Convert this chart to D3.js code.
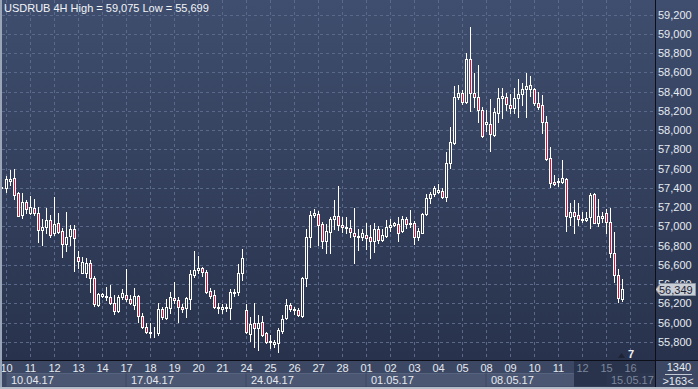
<!DOCTYPE html>
<html><head><meta charset="utf-8">
<script src="https://cdn.jsdelivr.net/npm/d3@7"></script>
<style>
html,body{margin:0;padding:0;background:#3b4763;overflow:hidden;}
svg{display:block;}
text{font-family:"Liberation Sans Narrow","Arial Narrow","Liberation Sans",Arial,sans-serif;font-size:11px;}
</style></head><body><svg id="c" width="698" height="389"></svg>
<script>
const titleText = "USDRUB 4H High = 59,075 Low = 55,699";
const dayLabels = ["10","11","12","13","14","17","18","19","20","21","24","25","26","27","28","01","02","03","04","05","08","09","10","11","12","15","16"];
const weekLabels = ["10.04.17","17.04.17","24.04.17","01.05.17","08.05.17","15.05.17"];
const priceTicks = [55800,56000,56200,56400,56600,56800,57000,57200,57400,57600,57800,58000,58200,58400,58600,58800,59000,59200];
const lastPrice = 56349;
const barsInfo = "1340";
const barsShown = ">163<";
const markerCount = "7";

const openP = [57400,57396,57475,57500,57344,57119,57251,57143,57189,57137,
56963,56997,57067,56929,57033,56953,56814,56901,56970,56680,
56519,56519,56617,56461,56184,56277,56270,56264,56208,56125,
56264,56288,56243,56184,56277,56070,55952,55902,55890,55890,
56139,56046,56156,56253,56236,56166,56150,56249,56496,56547,
56565,56530,56332,56288,56162,56145,56153,56150,56312,56316,
56519,56132,55883,56000,55942,56004,55896,55810,55779,55792,
55917,56046,56184,56139,56132,56070,56461,56887,57119,57126,
57022,56852,56945,57074,57108,57015,56991,56981,56935,56901,
56887,56911,56887,56849,56970,56859,56901,56991,57015,57025,
56956,57074,57022,57033,56893,56935,57126,57292,57337,57361,
57368,57303,57662,57870,58348,58390,58296,58737,58383,58342,
58210,58064,58061,57950,58182,58331,58342,58262,58228,58331,
58376,58425,58425,58425,58280,58262,58088,57708,57459,57465,
57465,57490,57101,57153,57119,57077,57067,57095,57334,57039,
57085,57143,57049,56721,56496,56243];
const highP = [57415,57524,57586,57594,57361,57351,57275,57316,57282,57205,
57074,57189,57119,57303,57137,56981,57147,57015,57015,56748,
56686,56669,56651,56485,56312,56306,56374,56392,56288,56288,
56350,56558,56288,56364,56288,56098,55994,55994,55952,56202,
56166,56243,56322,56426,56270,56194,56270,56547,56748,56693,
56582,56547,56357,56340,56208,56194,56194,56347,56347,56610,
56763,56194,56062,56202,56080,56070,55906,55872,55820,55942,
56080,56246,56202,56160,56150,56472,56974,57157,57181,57164,
57049,57022,57101,57275,57423,57101,57095,57067,57195,56970,
56970,57033,57015,57033,57005,56970,57067,57074,57049,57101,
57108,57101,57171,57060,56981,57137,57334,57361,57420,57441,
57396,57777,58030,58459,58470,58418,58805,59075,58591,58677,
58238,58210,58324,58231,58435,58435,58390,58376,58435,58529,
58487,58591,58563,58435,58400,58366,58148,57822,57535,57503,
57690,57500,57247,57275,57240,57153,57153,57351,57351,57282,
57153,57178,57189,56945,56555,56451];
const lowP = [57395,57361,57431,57282,57108,57085,57137,57129,57119,56842,
56807,56929,56893,56911,56935,56686,56748,56807,56540,56565,
56513,56478,56322,56174,56174,56264,56236,56194,56090,56116,
56243,56229,56194,56139,56010,55942,55890,55848,55855,55872,
56035,56035,56104,56202,56010,56114,56062,56139,56478,56513,
56485,56312,56253,56150,56098,56098,56125,56035,56277,56288,
56444,55896,55813,55751,55716,55862,55792,55734,55751,55699,
55896,56035,56125,56090,56070,56062,56381,56790,57101,56807,
56779,56721,56721,56970,56963,56945,56929,56893,56623,56755,
56859,56763,56669,56738,56831,56849,56893,56956,57005,56852,
56945,56981,56997,56818,56859,56929,57119,57247,57316,57348,
57292,57268,57604,57857,58321,58272,58280,58203,58238,58088,
57926,57995,57787,57940,58088,58124,58210,58176,58176,58140,
58262,58140,58355,58262,58217,57968,57690,57413,57431,57420,
57454,56956,57015,56929,57015,57049,57060,56981,57033,57005,
57049,56935,56680,56426,56218,56229];
const closeP = [57410,57490,57493,57327,57114,57251,57178,57199,57137,56963,
56991,57067,56911,57025,56945,56814,56893,56970,56877,56644,
56634,56617,56461,56191,56295,56295,56277,56208,56125,56264,
56312,56243,56202,56277,56070,55952,55900,55896,55898,56139,
56056,56166,56264,56236,56166,56145,56253,56506,56547,56565,
56524,56322,56281,56160,56158,56166,56160,56316,56322,56513,
56669,55906,55986,55942,56000,55872,55803,55803,55803,55924,
56038,56184,56139,56132,56080,56461,56887,57119,57137,57015,
56852,56953,57074,57108,57015,56991,56987,56939,56901,56887,
56929,56877,56849,56970,56859,56911,56991,57015,57033,56935,
57074,57022,57033,56893,56953,57126,57292,57337,57396,57379,
57303,57656,57880,58348,58390,58296,58737,58383,58342,58210,
57940,58088,57961,58192,58331,58355,58272,58228,58331,58376,
58425,58459,58470,58280,58244,58088,57698,57448,57441,57475,
57500,57108,57153,57108,57074,57067,57085,57327,57039,57108,
57108,57049,56721,56496,56253,56349];

const W = 698, H = 389;
const plotL = 2, plotR = 655, plotB = 360;
const svg = d3.select("#c");
const defs = svg.append("defs");
const grad = defs.append("linearGradient").attr("id","bg").attr("gradientUnits","userSpaceOnUse")
  .attr("x1",0).attr("y1",0).attr("x2",0).attr("y2",plotB);
grad.append("stop").attr("offset",0).attr("stop-color","#3f4e6e");
grad.append("stop").attr("offset",1).attr("stop-color","#28324c");
defs.append("clipPath").attr("id","clip").append("rect").attr("x",plotL).attr("y",0).attr("width",plotR-plotL).attr("height",plotB);

// scales
const xs = d3.scaleLinear().domain([1,151]).range([6,606.75]);
const ys = d3.scaleLinear().domain([55800,59200]).range([342,14.7]);
const px = i => Math.floor(xs(i));
const py = v => Math.round(ys(v));

// backgrounds
svg.append("rect").attr("x",0).attr("y",0).attr("width",W).attr("height",plotB).attr("fill","url(#bg)");
svg.append("rect").attr("x",0).attr("y",plotB).attr("width",W).attr("height",H-plotB).attr("fill","#3b4763");

// grid
const grid = svg.append("g").attr("shape-rendering","crispEdges").attr("stroke","#5a6989").attr("stroke-dasharray","3,3").attr("clip-path","url(#clip)");
grid.selectAll("line.h").data(priceTicks).join("line").attr("class","h")
  .attr("x1",plotL).attr("x2",plotR).attr("y1",d=>py(d)+0.5).attr("y2",d=>py(d)+0.5);
grid.selectAll("line.v").data(dayLabels).join("line").attr("class","v")
  .attr("x1",(d,i)=>px(1+6*i)+0.5).attr("x2",(d,i)=>px(1+6*i)+0.5).attr("y1",0).attr("y2",plotB);

// candles
const idx = d3.range(openP.length);
const cg = svg.append("g").attr("clip-path","url(#clip)").attr("shape-rendering","crispEdges");
cg.selectAll("line.w").data(idx).join("line").attr("class","w")
  .attr("x1",i=>px(i)+0.5).attr("x2",i=>px(i)+0.5)
  .attr("y1",i=>py(Math.max(highP[i],openP[i],closeP[i])))
  .attr("y2",i=>py(Math.min(lowP[i],openP[i],closeP[i]))+1)
  .attr("stroke","#ffffff").attr("stroke-width",1);
cg.selectAll("rect.b").data(idx).join("rect").attr("class","b")
  .attr("x",i=>px(i)-0.5).attr("width",2)
  .attr("y",i=>py(Math.max(openP[i],closeP[i]))+0.5)
  .attr("height",i=>py(Math.min(openP[i],closeP[i]))-py(Math.max(openP[i],closeP[i])))
  .attr("fill",i=>closeP[i]<openP[i]?"#e3103c":"url(#bg)")
  .attr("stroke","#ffffff").attr("stroke-width",1);

// title
svg.append("text").attr("x",4).attr("y",12).attr("fill","#f2f4f8").text(titleText);

// right axis labels
svg.selectAll("text.yl").data(priceTicks).join("text").attr("class","yl")
  .attr("x",658).attr("y",d=>py(d)+4).attr("fill","#e6ebf2")
  .text(d=>d3.format(",")(d));

// price tag
const ty = py(lastPrice)+0.5;
svg.append("path").attr("d",`M655.5,${ty} L660.5,${ty-6} L695.5,${ty-6} L695.5,${ty+6} L660.5,${ty+6} Z`)
  .attr("fill","#c9cdd5").attr("stroke","#8e96a6").attr("stroke-width",1);
svg.append("text").attr("x",659).attr("y",ty+4).attr("fill","#1b2233").text(d3.format(",")(lastPrice));

// x axis: week boxes
const shadeX = 574;
weekLabels.forEach((w,k)=>{
  const x0 = px(1+30*k)+0.5;
  const x1 = k<weekLabels.length-1 ? px(1+30*(k+1))-0.5 : plotR;
  if (k<weekLabels.length-1){
    const xe = Math.min(x1, shadeX);
    svg.append("rect").attr("x",x0).attr("y",373).attr("width",xe-x0).attr("height",13.5)
      .attr("fill","#4a5672");
    svg.append("line").attr("x1",x0).attr("x2",xe).attr("y1",373.5).attr("y2",373.5).attr("stroke","#56637f");
  }
});
// shaded future region
svg.append("rect").attr("x",shadeX).attr("y",361).attr("width",plotR-shadeX).attr("height",25.5).attr("fill","#29334b");
svg.append("rect").attr("x",px(151)+0.5).attr("y",373).attr("width",plotR-px(151)-0.5).attr("height",13.5).attr("fill","#2c364f");

svg.selectAll("text.dl").data(dayLabels).join("text").attr("class","dl")
  .attr("x",(d,i)=>px(1+6*i)+0.5).attr("y",372).attr("text-anchor","middle")
  .attr("fill",(d,i)=>px(1+6*i)>shadeX?"#7b879c":"#e4e9f0").text(d=>d);
svg.selectAll("text.wl").data(weekLabels).join("text").attr("class","wl")
  .attr("x",(d,k)=>px(1+30*k)+5).attr("y",384)
  .attr("fill",(d,k)=>px(1+30*k)>shadeX?"#7b879c":"#e4e9f0").text(d=>d);

// separators
svg.append("line").attr("x1",0).attr("x2",W).attr("y1",360.5).attr("y2",360.5).attr("stroke","#0c0f17");
svg.append("line").attr("x1",655.5).attr("x2",655.5).attr("y1",0).attr("y2",387).attr("stroke","#0c0f17");
svg.append("rect").attr("x",0).attr("y",0).attr("width",2).attr("height",H).attr("fill","#9aa6b8");
svg.append("rect").attr("x",0).attr("y",387).attr("width",W).attr("height",2).attr("fill","#b3bbc8");

// marker
svg.append("path").attr("d","M618,358 L621.5,353 L625,358 Z").attr("fill","#1d2333");
svg.append("text").attr("x",628).attr("y",358).attr("fill","#eef1f6").attr("font-weight","bold").text(markerCount);

// bottom-right info
svg.append("text").attr("x",679).attr("y",371).attr("text-anchor","middle").attr("fill","#e6ebf2").text(barsInfo);
svg.append("line").attr("x1",665).attr("x2",692).attr("y1",374.5).attr("y2",374.5).attr("stroke","#c3cad6");
svg.append("text").attr("x",678).attr("y",385).attr("text-anchor","middle").attr("fill","#e6ebf2").text(barsShown);
</script></body></html>
